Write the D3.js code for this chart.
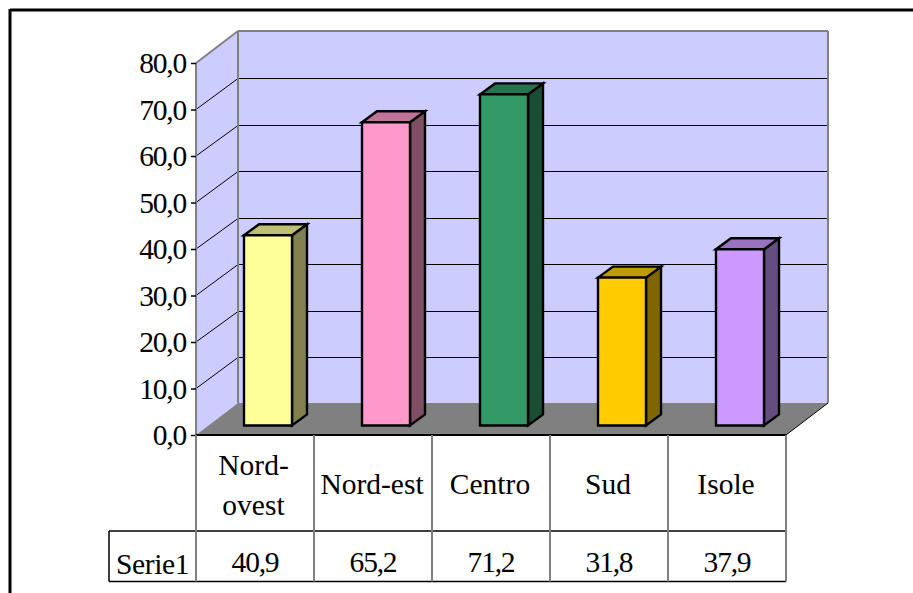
<!DOCTYPE html>
<html>
<head>
<meta charset="utf-8">
<script src="https://cdn.jsdelivr.net/npm/d3@7"></script>
<style>
html, body { margin: 0; padding: 0; background: #fff; overflow: hidden; }
text { font-family: "Liberation Serif", serif; fill: #000; }
</style>
</head>
<body>
<script>
var width = 913, height = 593;

var categories = [["Nord-", "ovest"], ["Nord-est"], ["Centro"], ["Sud"], ["Isole"]];
var seriesName = "Serie1";
var values = [40.9, 65.2, 71.2, 31.8, 37.9];
var valueLabels = ["40,9", "65,2", "71,2", "31,8", "37,9"];
var yTicks = [0, 10, 20, 30, 40, 50, 60, 70, 80];
var yTickLabels = ["0,0", "10,0", "20,0", "30,0", "40,0", "50,0", "60,0", "70,0", "80,0"];

var front = ["#FFFF99", "#FF99CC", "#339966", "#FFCC00", "#CC99FF"];
var tops = ["#BFBF73", "#BF7399", "#267350", "#BF9900", "#9973BF"];
var sides = ["#808050", "#804D66", "#1A4D33", "#806600", "#664D80"];

var x0 = 196, x1 = 786, y0 = 435, y80 = 63;
var dx = 42, dy = -32;           // profondeur du plot
var barDx = 15, barDy = -11;     // profondeur des barres
var barW = 48;
var barShiftX = 13, barShiftY = -9.5;

var svg = d3.select("body").append("svg")
    .attr("width", width)
    .attr("height", height)
    .style("display", "block");

var x = d3.scaleBand().domain(d3.range(categories.length)).range([x0, x1]);
var y = d3.scaleLinear().domain([0, 80]).range([y0, y80]);

function poly(points, fill, stroke, sw) {
    return svg.append("polygon")
        .attr("points", points.map(function (p) { return p.join(","); }).join(" "))
        .attr("fill", fill)
        .attr("stroke", stroke || "none")
        .attr("stroke-width", sw || 0)
        .attr("stroke-linejoin", "miter");
}

function line(a, b, c, d, color, w) {
    svg.append("line")
        .attr("x1", a).attr("y1", b).attr("x2", c).attr("y2", d)
        .attr("stroke", color).attr("stroke-width", w);
}

// cadre
line(10, 10, 913, 10, "#000", 3);
line(10, 9, 10, 593, "#000", 3);

// murs
poly([[x0, y(80)], [x0 + dx, y(80) + dy], [x0 + dx, y(0) + dy], [x0, y(0)]], "#CCCCFF");
poly([[x0 + dx, y(80) + dy], [x1 + dx, y(80) + dy], [x1 + dx, y(0) + dy], [x0 + dx, y(0) + dy]], "#CCCCFF");

// grille
yTicks.slice(1, -1).forEach(function (t) {
    var gy = Math.floor(y(t) + dy + 1) + 0.5;
    line(x0, y(t), x0 + dx, gy, "#000", 1);
    line(x0 + dx, gy, x1 + dx, gy, "#000", 1);
});

// contours gris
line(x0, y(80), x0 + dx, y(80) + dy, "#808080", 2);
line(x0 + dx, y(80) + dy, x1 + dx, y(80) + dy, "#808080", 2);
line(x0 + dx, y(80) + dy, x0 + dx, y(0) + dy, "#808080", 2);
line(x1 + dx, y(80) + dy, x1 + dx, y(0) + dy, "#808080", 2);
line(x0, y(80), x0, y(0), "#808080", 2);

// sol
poly([[x0, y(0)], [x0 + dx, y(0) + dy], [x1 + dx, y(0) + dy], [x1, y(0)]], "#808080");
line(x1, y(0), x1 + dx, y(0) + dy, "#000", 1);

// barres
values.forEach(function (v, i) {
    var l = x(i) + (x.bandwidth() - barW) / 2 + barShiftX;
    var r = l + barW;
    var b = y(0) + barShiftY;
    var t = y(v) + barShiftY;
    poly([[r, t], [r + barDx, t + barDy], [r + barDx, b + barDy], [r, b]], sides[i], "#000", 2.4);
    poly([[l, t], [l + barDx, t + barDy], [r + barDx, t + barDy], [r, t]], tops[i], "#000", 2.4);
    poly([[l, t], [r, t], [r, b], [l, b]], front[i], "#000", 2.4);
});

// axe y
var axis = d3.axisLeft(y)
    .tickValues(yTicks)
    .tickSize(5)
    .tickPadding(5)
    .tickFormat(function (d, i) { return yTickLabels[i]; });

var gAxis = svg.append("g")
    .attr("transform", "translate(" + x0 + ",0)")
    .call(axis);
gAxis.select(".domain").remove();
gAxis.selectAll("line").attr("stroke", "#000").attr("stroke-width", 1.5);
gAxis.selectAll("text")
    .style("font-family", "'Liberation Serif', serif")
    .style("letter-spacing", "-1.2px")
    .attr("font-size", 29.5)
    .attr("dy", "0.33em");

// table
var tableMid = 531, tableBottom = 581.5, tableLeft = 109;
line(x0, y(0), x1, y(0), "#000", 2);
line(tableLeft, tableMid, x1, tableMid, "#000", 1.5);
line(tableLeft, tableBottom, x1, tableBottom, "#000", 1.5);
line(tableLeft, tableMid, tableLeft, tableBottom, "#000", 1.5);

d3.range(categories.length + 1).forEach(function (i) {
    var px = i < categories.length ? x(i) : x1;
    line(px, y(0), px, tableBottom, "#808080", 2);
});

categories.forEach(function (c, i) {
    var cx = x(i) + x.bandwidth() / 2;
    var startY = c.length > 1 ? 475 : 494;
    c.forEach(function (s, j) {
        svg.append("text")
            .attr("x", i == 0 ? cx - 1.5 : cx - 1)
            .attr("y", startY + j * 40)
            .attr("text-anchor", "middle")
            .attr("font-size", 29.5)
            .text(s);
    });
    svg.append("text")
        .attr("x", cx)
        .attr("y", 572)
        .attr("text-anchor", "middle")
        .attr("font-size", 29.5)
        .style("letter-spacing", "-1.2px")
        .text(valueLabels[i]);
});

svg.append("text")
    .attr("x", 152.5)
    .attr("y", 574)
    .attr("text-anchor", "middle")
    .attr("font-size", 29.5)
    .style("letter-spacing", "-0.4px")
    .text(seriesName);
</script>
</body>
</html>
